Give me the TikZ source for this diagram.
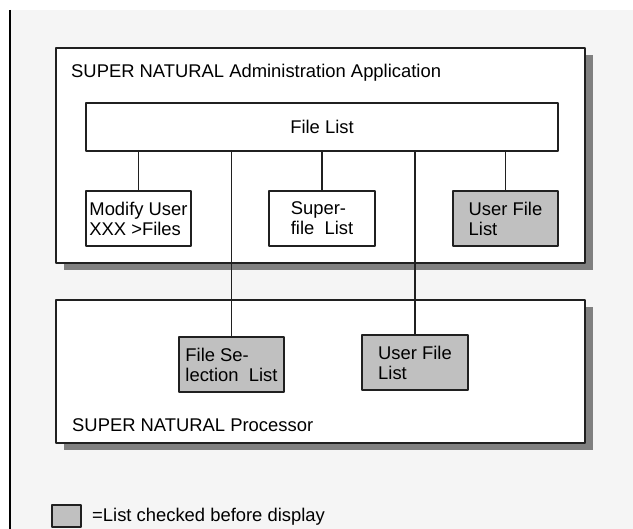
\documentclass[tikz,border=0pt]{standalone}
\usepackage{fontspec}
\setmainfont{Liberation Sans}
\usetikzlibrary{shadows}
\definecolor{paper}{HTML}{F5F5F5}
\definecolor{checkgray}{HTML}{C0C0C0}
\definecolor{framegray}{HTML}{202020}
\begin{document}
\begin{tikzpicture}[x=1pt, y=-1pt, font=\fontsize{18.4}{20}\selectfont, line join=round, line cap=round, >=stealth,
	outer/.style={draw=framegray, line width=1.3pt, fill=white, inner sep=0pt,
		drop shadow={shadow xshift=8pt, shadow yshift=-7pt, fill=black!50, opacity=1}},
	listbox/.style={draw=framegray, line width=1.1pt, fill=white, align=left, inner sep=0pt, minimum height=55},
	checked/.style={listbox, fill=checkgray},
	link/.style={draw=framegray, line width=1.1pt}]
			\useasboundingbox (0,0) rectangle (633,529);
			% background and left rule
			\fill[white] (0,0) rectangle (633,529);
			\fill[paper] (10,10) rectangle (633,529);
			\coordinate (T) at (10,10);
			\coordinate (B) at (10,529);
			\draw[line width=1.5pt, line cap=butt] (T)--(B);
			% the two applications
			\node[outer, minimum width=529, minimum height=215] (admin) at (320.5,155.5) {};
			\node[outer, minimum width=529, minimum height=143] (proc) at (320.5,371.5) {};
			\node[anchor=base west, inner sep=0pt] (admintitle) at (71,78) {SUPER NATURAL Administration Application};
			\node[anchor=base west, inner sep=0pt] (proctitle) at (72,432) {SUPER NATURAL Processor};
			% lists
			\node[listbox, minimum width=472, minimum height=48] (flist) at (322,127) {File List};
			\node[listbox, minimum width=105] (modify) at (138.5,218.5) {Modify User\\XXX >Files};
			\node[listbox, minimum width=106] (super) at (322,218.5) {Super-\\file\ \ List};
			\node[checked, minimum width=105] (ufile) at (505.5,218.5) {User File\\List};
			\node[checked, minimum width=105] (fsel) at (231.5,364.5) {File Se-\\lection\ \ List};
			\node[checked, minimum width=106] (ufileb) at (415,362.5) {User File\\List};
			% connectors
			\draw[link] (modify.north)--(modify.north |- flist.south);
			\draw[link] (super.north)--(super.north |- flist.south);
			\draw[link] (ufile.north)--(ufile.north |- flist.south);
			\draw[link] (fsel.north)--(fsel.north |- flist.south);
			\draw[link] (ufileb.north)--(ufileb.north |- flist.south);
			% legend
			\node[checked, minimum width=29, minimum height=22] (key) at (66.5,516) {};
			\node[anchor=base west, inner sep=0pt] (keytext) at (92,522) {=List checked before display};
		\end{tikzpicture}
\end{document}
